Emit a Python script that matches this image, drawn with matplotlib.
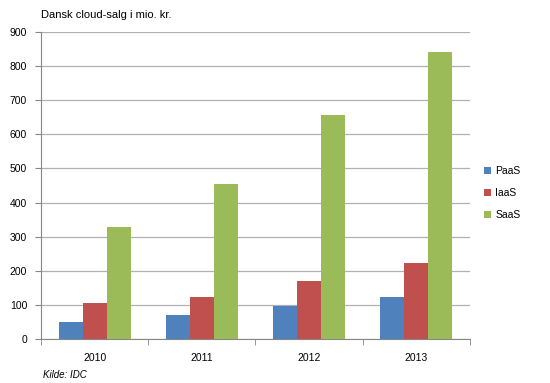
import matplotlib
matplotlib.use("Agg")
import matplotlib.pyplot as plt
import numpy as np

years = ["2010", "2011", "2012", "2013"]
paas = [50, 69, 97, 124]
iaas = [105, 124, 169, 223]
saas = [328, 455, 658, 843]
series = ["PaaS", "IaaS", "SaaS"]
colors = ["#4F81BD", "#C0504D", "#9BBB59"]

plt.rcParams['font.family'] = ['Liberation Sans', 'DejaVu Sans']

fig = plt.figure(figsize=(5.5, 3.83), dpi=100)
ax = fig.add_axes([0.0745, 0.1155, 0.78, 0.8005])

x = np.arange(len(years))
w = 0.224
for i, (vals, name, c) in enumerate(zip([paas, iaas, saas], series, colors)):
    ax.bar(x + (i - 1) * w, vals, w, color=c, label=name, zorder=3)

ax.set_xlim(-0.5, 3.5)
ax.set_ylim(0, 900)
ax.set_yticks(range(0, 901, 100))
ax.set_xticks(x)
ax.set_xticklabels(years)
ax.set_xticks(np.arange(-0.5, 4, 1), minor=True)
ax.tick_params(axis='x', which='major', length=0, labelsize=7.5, pad=10)
ax.tick_params(axis='x', which='minor', length=4, color='#868686')
ax.tick_params(axis='y', length=4, color='#868686', labelsize=7.5, pad=6)
ax.yaxis.grid(True, color='#B0B0B0', linewidth=0.9, zorder=0)
for s in ['top', 'right']:
    ax.spines[s].set_visible(False)
ax.spines['left'].set_color('#868686')
ax.spines['bottom'].set_color('#868686')

ax.legend(loc='center left', bbox_to_anchor=(1.01, 0.476), frameon=False,
          fontsize=7.5, handlelength=0.7, handleheight=0.7, labelspacing=1.15,
          handletextpad=0.4)

fig.text(0.0745, 0.96, "Dansk cloud-salg i mio. kr.", fontsize=8, ha='left', va='center')
fig.text(0.078, 0.02, "Kilde: IDC", fontsize=7, style='italic', ha='left', va='center')

fig.savefig("out.png", dpi=100, facecolor='white')
